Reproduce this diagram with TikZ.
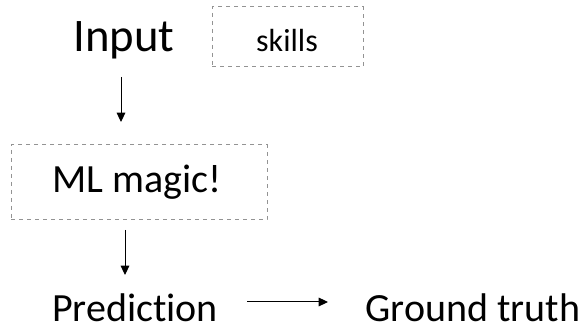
\documentclass[tikz,border=0pt]{standalone}
\usepackage{fontspec}
\setmainfont{Carlito}[Ligatures=NoCommon]
\usetikzlibrary{arrows.meta}
\begin{document}
\begin{tikzpicture}[x=0.75pt,y=-0.75pt,
  dbox/.style={draw=gray!85,dashed,line width=0.75pt,inner sep=0pt},
  flow/.style={line width=0.75pt,-{Triangle[length=7pt,width=6.5pt]}},
  big/.style={font=\fontsize{35}{40}\selectfont,anchor=base,inner sep=0pt},
  mid/.style={font=\fontsize{30}{34}\selectfont,anchor=base,inner sep=0pt}]
\useasboundingbox (0,0) rectangle (587,331);
% inputs
\node[big] (input) at (124,52) {Input};
\node[dbox,minimum width=151*0.75pt,minimum height=60*0.75pt] (skillsbox) at (287.5,37) {};
\node[font=\fontsize{24}{28}\selectfont,anchor=base,inner sep=0pt] (skills) at (287,52) {skills};
% model
\node[dbox,minimum width=256*0.75pt,minimum height=75*0.75pt] (mlbox) at (139,182.5) {};
\node[mid] (ml) at (137,193) {ML magic!};
% outputs
\node[mid] (pred) at (135,322) {Prediction};
\node[mid] (truth) at (473,322) {Ground truth};
\coordinate (a1) at (121,77);
\coordinate (a2) at (121,122);
\coordinate (b1) at (125,230);
\coordinate (b2) at (125,275);
\coordinate (c1) at (247,302);
\coordinate (c2) at (328,302);
\draw[flow] (a1) -- (a2);
\draw[flow] (b1) -- (b2);
\draw[flow] (c1) -- (c2);
\end{tikzpicture}
\end{document}
